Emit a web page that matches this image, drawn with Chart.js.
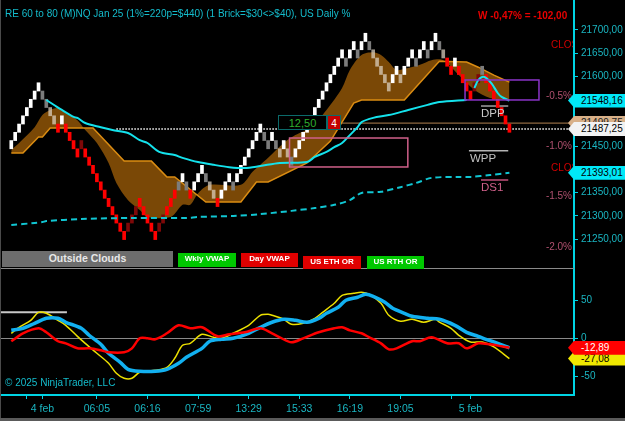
<!DOCTYPE html>
<html>
<head>
<meta charset="utf-8">
<title>RE 60 to 80 (M)NQ Jan 25</title>
<script src="https://cdn.jsdelivr.net/npm/chart.js@4.4.1/dist/chart.umd.min.js"></script>
<style>
  html, body { margin: 0; padding: 0; background: #000; }
  #wrap { position: relative; width: 625px; height: 421px; background: #000; overflow: hidden;
          font-family: Arial, "Liberation Sans", sans-serif; }
  canvas { position: absolute; left: 0; }
  #priceCanvas { top: 0; }
  #oscCanvas { top: 269px; }
  .t { position: absolute; white-space: nowrap; line-height: 12px; }
  .flag { position: absolute; left: 568px; width: 57px; height: 14px; line-height: 14px;
          font-size: 10px; padding-left: 13px; box-sizing: border-box; white-space: nowrap;
          clip-path: polygon(0 50%, 6px 0, 100% 0, 100% 100%, 6px 100%); }
  .btn { position: absolute; color: #fff; font-weight: bold; text-align: center; white-space: nowrap; }
</style>
</head>
<body>
<div id="wrap">
  <canvas id="priceCanvas" width="625" height="269"></canvas>
  <canvas id="oscCanvas" width="625" height="152"></canvas>

  <div style="position:absolute;left:0;top:268px;width:574px;height:1px;background:#8a8a8a"></div>
  <div style="position:absolute;left:0;top:0;width:1px;height:421px;background:#4a4a4a"></div>
  <div style="position:absolute;left:0;top:418px;width:625px;height:3px;background:#5a5a5a"></div>

  <div class="t" style="left:5px;top:8px;font-size:10px;color:#14bccc">RE 60 to 80 (M)NQ Jan 25 (1%=220p=$440) (1 Brick=$30&lt;&gt;$40), US Daily %</div>
  <div class="t" style="left:478px;top:10px;font-size:10px;font-weight:bold;color:#e80000">W -0,47% = -102,00</div>
  <div class="t" style="left:551px;top:39px;width:22px;overflow:hidden;font-size:10px;color:#d00000">CLOSE</div>
  <div class="t" style="left:551px;top:162px;width:22px;overflow:hidden;font-size:10px;color:#d00000">CLOSE</div>
  <div class="t" style="right:53px;top:90px;font-size:10px;color:#b0506e">-0.5%</div>
  <div class="t" style="right:53px;top:140px;font-size:10px;color:#b0506e">-1.0%</div>
  <div class="t" style="right:53px;top:190px;font-size:10px;color:#b0506e">-1.5%</div>
  <div class="t" style="right:53px;top:241px;font-size:10px;color:#b0506e">-2.0%</div>
  <div class="t" style="left:481px;top:107px;font-size:11.5px;color:#c8c8c8">DPP</div>
  <div class="t" style="left:470px;top:152px;font-size:11.5px;color:#c0c0c0">WPP</div>
  <div class="t" style="left:481px;top:181px;font-size:11.5px;color:#d0608a">DS1</div>

  <div class="t" style="left:278px;top:115px;width:49px;height:15px;line-height:15px;border:1px solid #0b6a6a;box-sizing:border-box;text-align:center;font-size:11px;color:#2fae2f;background:#000">12,50</div>
  <div class="t" style="left:327px;top:115px;width:14px;height:15px;line-height:15px;border:1px solid #0b6a6a;box-sizing:border-box;text-align:center;font-size:10px;color:#fff;background:#c40000">4</div>

  <div class="btn" style="left:2px;top:251px;width:171px;height:16px;line-height:14px;font-size:10.5px;background:#6d6d6d;color:#e8e8e8">Outside Clouds</div>
  <div class="btn" style="left:178px;top:253px;width:58px;height:14px;line-height:12px;font-size:8px;background:#00c800">Wkly VWAP</div>
  <div class="btn" style="left:241px;top:253px;width:57px;height:14px;line-height:12px;font-size:8px;background:#e00000">Day VWAP</div>
  <div class="btn" style="left:303px;top:256px;width:58px;height:13px;line-height:12px;font-size:8px;background:#e00000">US ETH OR</div>
  <div class="btn" style="left:367px;top:256px;width:57px;height:13px;line-height:12px;font-size:8px;background:#00c800">US RTH OR</div>

  <div class="t" style="left:5px;top:377px;font-size:10px;color:#14bccc">© 2025 NinjaTrader, LLC</div>

  <div id="flagTan" class="flag" style="background:#d8b088;color:#222">21499,75</div>
  <div id="flagCyan1" class="flag" style="background:#00e8f8;color:#000">21548,16</div>
  <div id="flagClose" class="flag" style="background:#f2f2f2;color:#000">21487,25</div>
  <div id="flagCyan2" class="flag" style="background:#00e8f8;color:#000">21393,01</div>
  <div id="flagYellow" class="flag" style="background:#f0e800;color:#000">-27,08</div>
  <div id="flagRed" class="flag" style="background:#ff0000;color:#fff">-12,89</div>
</div>

<script>
// Visible bar window
const X_MIN = -2.9;
const X_MAX = 144.6;

// Renko bricks: lower edge level of each brick (in bricks) and its colour kind
const BRICK_BASE = 21480;
const BRICK_SIZE = 17.75;
const BRICK_LEVELS = [
    -2, -1, 0, 1, 2, 3, 4, 5, 4, 3, 2, 1, 0, 1, 0, -1, -2, -3, -2,
    -3, -4, -5, -6, -7, -8, -9, -10, -11, -12, -13, -12, -11, -10,
    -9, -10, -11, -12, -13, -12, -11, -10, -9, -8,
    -7, -6, -7, -8, -7, -6, -5, -6, -7, -8, -9, -8, -7, -6, -7,
    -6, -5, -4, -3, -2, -1, 0,
    -1, -2, -1, -2, -3, -2, -3, -4,
    -3, -2, -1, 0, 1, 2, 3, 4, 5, 6, 7, 8, 9,
    8, 9, 10, 9, 10, 11,
    10, 9, 8, 7, 6, 5,
    6, 7, 6, 7, 8, 9, 8, 9, 10, 9, 10, 11,
    10, 9, 8, 7, 8, 7, 6, 5, 4,
    5, 6, 7,
    6, 5, 4, 3, 2, 1, 0
];
const BRICK_KINDS = [
    'WWWWWWWW', 'GGLL', 'RWR', 'RRR', 'D', 'RRRRRRRRRRR', 'DDD', 'RRRRR', 'DD', 'RRR',
    'GWGRWWWGLLRWWWG', 'WWWWWWW', 'GGWGLWLG', 'WWWWWWWWWWWWW', 'GWWGWW', 'GLLLLL',
    'WWLWWWGWWGWW', 'GLRRWRRRR', 'DDG', 'RRRRRRR'
].join('').split('');
const BRICK_COLORS = { W: '#ffffff', G: '#7c7c7c', L: 'rgba(222,210,196,0.72)', R: '#ff0000', D: '#7e0808' };

// Cloud edges [bar, price]
const CLOUD_STEP = [
    [0, 21435.5], [3, 21435.5], [7, 21470], [8, 21470], [10, 21489], [21, 21489], [29, 21418], [36, 21418],
    [40, 21384], [42, 21384], [50, 21330], [59, 21330], [63, 21373], [66, 21373], [76, 21414], [82, 21461],
    [88, 21543], [90, 21549.5], [101, 21549.5], [110, 21633], [117, 21631], [120, 21620], [124, 21603], [128, 21588]
];
const CLOUD_SMOOTH = [
    [0, 21442], [2, 21457], [6, 21491], [8, 21517], [10, 21528], [12, 21532], [14, 21521], [17, 21506],
    [19, 21485], [22, 21457], [25, 21414], [27, 21371], [30, 21334], [33, 21313], [35, 21298], [41, 21298],
    [44, 21324], [46, 21324], [48, 21349], [51, 21367], [59, 21367], [62, 21395], [64, 21410], [66, 21425],
    [70, 21457], [73, 21474], [77, 21491], [81, 21528], [85, 21575], [87, 21614], [90, 21646], [93, 21652],
    [95, 21646], [97, 21631], [99, 21614], [102, 21618], [105, 21625], [108, 21635], [111, 21635],
    [115, 21603], [119, 21571], [123, 21554], [128, 21549]
];

// Cyan VWAP lines [bar, price]
const VWAP_DAY = [
    [9, 21549.5], [11, 21538.7], [13, 21528], [16, 21513], [17, 21511], [19, 21500], [23, 21491], [26, 21485],
    [30, 21478.5], [33, 21463], [35, 21457], [38, 21438], [42, 21431], [44, 21425], [48, 21416], [52, 21410],
    [56, 21405], [60, 21403], [64, 21407.5], [69, 21414], [76, 21416], [78, 21427], [81, 21438], [83, 21448],
    [85, 21457], [87, 21474], [89, 21491], [90, 21502], [93, 21511], [97, 21517], [102, 21528], [107, 21539],
    [110, 21545], [117, 21549.5], [118, null], [119, 21575], [120, 21592.5], [121, 21599], [122, 21597],
    [123.5, 21584], [125, 21564.5], [126, 21556], [128, 21548.16]
];
const VWAP_WEEK = [
    [0, 21280.6], [6, 21285], [8, 21287], [9, 21289], [18, 21293.5], [31, 21295.7], [45, 21295.7], [48, 21298],
    [57, 21300], [64, 21304], [72, 21311], [78, 21317], [83, 21324], [87, 21334], [90, 21349.5], [95, 21352],
    [100, 21362], [104, 21371], [108, 21382], [115, 21384], [118, 21384], [123, 21388], [128, 21393.01]
];

// Horizontal levels [bar, price]
const CLOSE_LINE = [[27, 21487.25], [X_MAX, 21487.25]];
const TAN_LINE = [[85, 21499.75], [X_MAX, 21499.75]];
const DPP_LINE = [[120.7, 21536.5], [127.7, 21536.5]];
const WPP_LINE = [[117.6, 21440.4], [127.7, 21440.4]];
const DS1_LINE = [[120.7, 21377.4], [127.7, 21377.4]];
const BOXES = [
    { x0: 71.5, x1: 101.9, top: 21467.7, bottom: 21405.4, color: '#d0608a' },
    { x0: 116.6, x1: 135.6, top: 21592.5, bottom: 21549.5, color: '#8a34c8' }
];

// Oscillators [bar, value]
const OSC_BLUE = [
    [0, 10.1], [3, 12.8], [6, 19.3], [9, 25.9], [12, 25.9], [14, 20.7], [18, 12.8], [20, 3.6], [23, -8.3],
    [25, -20.1], [28, -32], [30, -41.2], [33, -43.8], [37, -43.8], [40, -41.2], [43, -33.3], [45, -25.4],
    [49, -13.6], [51, -4.3], [54, -1.7], [57, -0.4], [61, 6.2], [64, 14], [67, 20.7], [70, 24.6], [73, 23.3],
    [76, 20.7], [79, 25.9], [81, 32.5], [84, 40.4], [86, 49.6], [89, 53.6], [91, 57.5], [93, 54.9], [96, 47],
    [98, 39.1], [101, 32.5], [103, 28.6], [107, 25.9], [110, 24.6], [114, 16.7], [117, 7.5], [120, 2.2],
    [122, -1.7], [125, -7], [128, -12.89]
];
const OSC_YELLOW = [
    [0, 6.2], [2, 14.1], [5, 23.3], [7, 33.8], [9, 32.5], [12, 23.3], [14, 16.7], [17, 2.2], [19, -7],
    [22, -20.1], [25, -33.3], [27, -46.4], [29, -53], [31, -53], [33, -45.1], [37, -42.5], [40, -38.6],
    [42, -26.7], [44, -9.6], [46, -7], [49, 4.9], [52, 0.9], [54, -0.4], [57, 6.2], [61, 16.7], [64, 29.9],
    [66, 31.2], [67, 29.9], [70, 24.6], [72, 18], [75, 19.3], [78, 25.9], [80, 33.8], [83, 45.7], [85, 56.2],
    [88, 58.8], [90, 60.1], [92, 57.5], [95, 45.7], [97, 29.9], [100, 22], [103, 24.6], [106, 20.7],
    [109, 24.6], [110, 21], [113, 12.8], [115, 3.6], [118, -5.3], [121, -5.3], [124, -11.8], [128, -27.08]
];
const OSC_RED = [
    [0, -4.3], [3, 6.2], [7, 12.8], [9, 7.5], [12, -4.3], [14, -7], [17, -13.6], [20, -13.6], [23, -16.2],
    [25, -18.8], [29, -18.8], [31, -13.6], [33, -0.4], [35, -0.4], [37, -1.7], [40, 6.2], [43, 16.7],
    [46, 12.8], [49, 14.1], [53, 2.2], [56, 4.9], [60, 7.5], [64, 12.8], [67, 6.2], [69, 0.9], [72, -5.7],
    [75, -0.4], [79, 7.5], [83, 12.8], [85, 14.1], [87, 10.1], [90, 6.2], [92, 0.9], [95, -7], [97, -14.9],
    [99, -13.6], [103, -4.3], [105, -4.3], [108, 0.9], [112, -7], [115, -7], [117, -13.6], [120, -7],
    [123, -8.3], [126, -10.9], [128, -12.89]
];
const OSC_LEVEL = [[X_MIN, 33.8], [14.3, 33.8]];

// Axis ticks
const PRICE_TICKS = [21250, 21300, 21350, 21450, 21600, 21650, 21700];
const OSC_TICKS = [-50, 0, 50];
const TIME_TICK_BARS = [4, 8, 22, 35, 48, 61, 74, 87, 100, 113, 118];
const TIME_TICK_LABELS = ['', '4 feb', '06:05', '06:16', '07:59', '13:29', '15:33', '16:19', '19:05', '', '5 feb'];

// Price flags on the right axis
const PRICE_FLAGS = [
    { id: 'flagTan', value: 21499.75 },
    { id: 'flagCyan1', value: 21548.16 },
    { id: 'flagClose', value: 21487.25 },
    { id: 'flagCyan2', value: 21393.01 }
];
const OSC_FLAGS = [
    { id: 'flagYellow', value: -27.08 },
    { id: 'flagRed', value: -12.89 }
];

const AXIS_CYAN = '#00d4e4';
const LABEL_CYAN = '#1ab6c2';

const pts = arr => arr.map(([x, y]) => ({ x, y }));

function flagPlugin(flags, offsetTop) {
    return {
        id: 'flagPos',
        afterRender(chart) {
            const y = chart.scales.y;
            flags.forEach(f => {
                const el = document.getElementById(f.id);
                el.style.top = (offsetTop + y.getPixelForValue(f.value) - 7) + 'px';
            });
        }
    };
}

const boxPlugin = {
    id: 'boxes',
    afterDatasetsDraw(chart) {
        const { ctx, scales: { x, y } } = chart;
        BOXES.forEach(b => {
            const x0 = x.getPixelForValue(b.x0);
            const x1 = x.getPixelForValue(b.x1);
            const y0 = y.getPixelForValue(b.top);
            const y1 = y.getPixelForValue(b.bottom);
            ctx.save();
            ctx.strokeStyle = b.color;
            ctx.lineWidth = 1.5;
            ctx.strokeRect(x0, y0, x1 - x0, y1 - y0);
            ctx.restore();
        });
    }
};

function rightAxis(min, max, ticks, fmt) {
    return {
        position: 'right',
        min: min,
        max: max,
        afterBuildTicks: s => { s.ticks = ticks.map(v => ({ value: v })); },
        afterFit: s => { s.width = 51; s.paddingTop = 0; s.paddingBottom = 0; },
        ticks: { color: LABEL_CYAN, font: { family: 'Arial', size: 10 }, padding: 3, callback: fmt },
        grid: { drawOnChartArea: false, color: AXIS_CYAN, tickLength: 4 },
        border: { color: AXIS_CYAN, width: 2 }
    };
}

Chart.defaults.animation = false;
Chart.defaults.events = [];

// Price panel
new Chart(document.getElementById('priceCanvas'), {
    type: 'bar',
    data: {
        datasets: [
            { type: 'line', data: pts(VWAP_DAY), borderColor: '#14e2ec', borderWidth: 2, tension: 0.3, spanGaps: false, order: 1 },
            { type: 'line', data: pts(VWAP_WEEK), borderColor: '#10c6d2', borderWidth: 2, borderDash: [6, 4], tension: 0.3, order: 1 },
            {
                type: 'bar',
                data: BRICK_LEVELS.map((lv, i) => ({ x: i, y: [BRICK_BASE + lv * BRICK_SIZE, BRICK_BASE + (lv + 1) * BRICK_SIZE] })),
                backgroundColor: BRICK_KINDS.map(k => BRICK_COLORS[k]),
                barThickness: 3,
                borderWidth: 0,
                order: 2
            },
            { type: 'line', data: pts(CLOSE_LINE), borderColor: '#ffffff', borderWidth: 1.5, borderDash: [1.5, 1.5], order: 3 },
            { type: 'line', data: pts(TAN_LINE), borderColor: '#b08050', borderWidth: 1, order: 3 },
            { type: 'line', data: pts(DPP_LINE), borderColor: '#a0a0a0', borderWidth: 1.5, order: 3 },
            { type: 'line', data: pts(WPP_LINE), borderColor: '#b4b4b4', borderWidth: 1.5, order: 3 },
            { type: 'line', data: pts(DS1_LINE), borderColor: '#c0507a', borderWidth: 1.5, order: 3 },
            { type: 'line', data: pts(CLOUD_STEP), borderColor: '#da8c12', borderWidth: 1.5, fill: '+1', backgroundColor: '#7a4806', order: 5 },
            { type: 'line', data: pts(CLOUD_SMOOTH), borderColor: 'rgba(0,0,0,0)', borderWidth: 0, tension: 0.3, order: 6 }
        ]
    },
    options: {
        responsive: false,
        layout: { padding: 0 },
        elements: { point: { radius: 0 } },
        plugins: { legend: { display: false }, tooltip: { enabled: false } },
        scales: {
            x: { type: 'linear', min: X_MIN, max: X_MAX, offset: false, display: false },
            y: rightAxis(21186, 21764.5, PRICE_TICKS, v => v.toFixed(2).replace('.', ','))
        }
    },
    plugins: [boxPlugin, flagPlugin(PRICE_FLAGS, 0)]
});

// Oscillator panel
new Chart(document.getElementById('oscCanvas'), {
    type: 'line',
    data: {
        datasets: [
            { data: pts(OSC_RED), borderColor: '#ff0000', borderWidth: 2.5, tension: 0.3, order: 1 },
            { data: pts(OSC_BLUE), borderColor: '#12b0f0', borderWidth: 3.5, tension: 0.3, order: 2 },
            { data: pts(OSC_YELLOW), borderColor: '#ece000', borderWidth: 1.5, tension: 0.3, order: 3 },
            { data: pts(OSC_LEVEL), borderColor: '#c8c8c8', borderWidth: 2, order: 4 }
        ]
    },
    options: {
        responsive: false,
        layout: { padding: 0 },
        elements: { point: { radius: 0 } },
        plugins: { legend: { display: false }, tooltip: { enabled: false } },
        scales: {
            x: {
                type: 'linear',
                min: X_MIN,
                max: X_MAX,
                offset: false,
                position: 'bottom',
                afterBuildTicks: s => { s.ticks = TIME_TICK_BARS.map(v => ({ value: v })); },
                afterFit: s => { s.height = 26; s.paddingLeft = 0; s.paddingRight = 0; },
                ticks: {
                    color: LABEL_CYAN, font: { family: 'Arial', size: 10.5 }, autoSkip: false, maxRotation: 0, padding: 4,
                    callback: (v, i) => TIME_TICK_LABELS[i]
                },
                grid: { drawOnChartArea: false, color: AXIS_CYAN, tickLength: 4 },
                border: { color: AXIS_CYAN, width: 2 }
            },
            y: Object.assign(rightAxis(-75, 90.8, OSC_TICKS, v => String(v)), {
                grid: {
                    drawOnChartArea: true,
                    color: c => (c.tick && c.tick.value === 0 ? '#8a8a8a' : 'rgba(0,0,0,0)'),
                    tickColor: AXIS_CYAN,
                    tickLength: 4
                }
            })
        }
    },
    plugins: [flagPlugin(OSC_FLAGS, 269)]
});
</script>
</body>
</html>
